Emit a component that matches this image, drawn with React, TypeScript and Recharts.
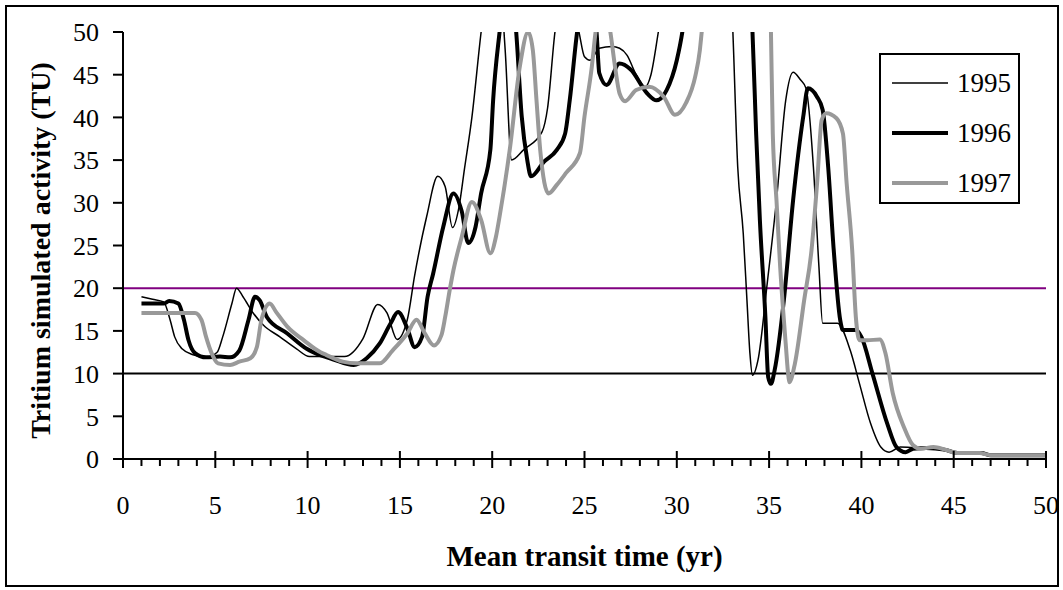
import { Line, LineChart, ReferenceLine, XAxis, YAxis } from "recharts";

// mean transit time (yr) -> simulated tritium (TU)
const x1995 = [1.0, 1.6, 2.2, 2.55, 2.8, 3.2, 3.8, 4.5, 5.1, 5.4, 5.9, 6.15, 6.5, 7.05, 7.6, 8.5, 9.4, 10.1, 11.0, 12.0, 13.0, 13.8, 14.3, 14.85, 15.4, 15.8, 16.45, 17.05, 17.45, 17.85, 18.2, 18.5, 18.9, 19.4, 19.9, 20.3, 20.7, 21.05, 21.7, 22.7, 23.0, 23.4, 24.0, 24.7, 25.0, 25.3, 25.8, 26.5, 26.9, 27.3, 27.8, 28.3, 28.6, 29.0, 30.0, 31.0, 32.0, 33.0, 33.3, 33.6, 33.8, 33.96, 34.1, 34.4, 34.9, 35.4, 35.9, 36.3, 36.7, 37.0, 37.4, 37.7, 37.9, 38.7, 39.4, 39.9, 40.5, 41.05, 41.5, 42.1, 43.0, 44.0, 45.0, 46.5, 47.0, 50.0];
const y1995 = [19.0, 18.7, 18.4, 16.3, 14.3, 12.9, 12.2, 11.9, 12.5, 14.3, 18.2, 20.0, 19.0, 17.1, 15.7, 14.3, 12.9, 12.0, 12.0, 12.0, 14.1, 18.1, 17.1, 14.0, 16.3, 21.5, 28.4, 33.1, 31.9, 27.1, 29.5, 34.0, 40.0, 50.0, 58, 58, 48, 35.0, 36.2, 38.3, 41.1, 50.0, 56, 50, 47.1, 46.7, 48.1, 48.3, 48.1, 47.3, 45.0, 43.6, 45.0, 50.0, 65, 75, 75, 52, 34.2, 26.4, 18.6, 12.4, 9.8, 11.6, 20.6, 30.3, 42.0, 45.3, 44.4, 43.4, 34.2, 22.5, 15.9, 15.9, 12.7, 8.8, 4.15, 1.4, 0.8, 1.4, 1.3, 1.2, 0.8, 0.7, 0.45, 0.45];

const x1996 = [1.0, 2.2, 2.5, 3.0, 3.3, 3.55, 3.9, 4.5, 5.25, 5.8, 6.3, 6.8, 7.15, 7.4, 7.8, 8.9, 9.95, 10.3, 11.4, 12.5, 13.2, 13.9, 14.5, 14.9, 15.4, 15.8, 16.2, 16.5, 16.8, 17.35, 17.9, 18.35, 18.7, 19.1, 19.4, 19.9, 20.05, 20.4, 20.9, 21.3, 21.6, 21.9, 22.1, 22.8, 23.5, 23.95, 24.2, 24.6, 25.1, 25.65, 25.8, 26.2, 26.9, 27.5, 28.4, 28.9, 29.45, 30.0, 30.3, 31.0, 32.0, 33.0, 33.8, 34.1, 34.3, 34.5, 34.8, 34.95, 35.1, 35.3, 35.8, 36.3, 36.85, 37.1, 37.6, 37.9, 38.2, 38.5, 38.85, 39.0, 39.7, 40.0, 40.6, 41.4, 41.9, 42.4, 42.8, 43.5, 44.5, 45.2, 46.5, 47.0, 50.0];
const y1996 = [18.2, 18.2, 18.5, 18.2, 16.3, 13.9, 12.4, 11.9, 12.0, 11.9, 12.7, 16.3, 19.0, 18.6, 16.6, 14.7, 12.9, 12.5, 11.65, 11.0, 11.8, 13.5, 15.9, 17.2, 15.3, 13.1, 14.3, 19.0, 21.7, 27.2, 31.1, 29.0, 25.3, 27.2, 31.1, 36.2, 42.0, 50.0, 58, 50, 40.1, 35.0, 33.1, 34.8, 36.2, 38.1, 42.0, 50.0, 56, 50, 45.2, 43.8, 46.3, 45.6, 42.8, 42.0, 43.2, 46.7, 50, 65, 78, 78, 60, 50, 38, 28, 16.6, 9.6, 8.8, 10.4, 18.6, 30.3, 40.1, 43.4, 42.4, 40.9, 34.2, 24.5, 16.3, 15.1, 15.1, 14.3, 10.0, 4.15, 1.4, 0.8, 1.2, 1.3, 1.1, 0.7, 0.7, 0.45, 0.45];

const x1997 = [1.0, 3.45, 3.9, 4.25, 4.5, 4.8, 5.15, 5.8, 6.3, 6.9, 7.25, 7.5, 7.95, 8.3, 8.9, 9.8, 10.7, 11.0, 11.9, 12.65, 13.9, 14.6, 15.4, 15.9, 16.35, 16.85, 17.25, 17.45, 17.7, 17.9, 18.35, 18.9, 19.4, 19.9, 20.2, 20.4, 20.95, 21.5, 21.95, 22.2, 22.4, 22.6, 23.05, 23.5, 24.0, 24.75, 25.0, 25.4, 25.6, 26.0, 26.4, 26.65, 26.9, 27.2, 27.8, 28.5, 29.3, 29.9, 30.5, 31.0, 31.25, 31.35, 32.0, 33.0, 34.0, 35.0, 35.1, 35.2, 35.4, 35.6, 35.9, 36.05, 36.1, 36.4, 36.9, 37.3, 37.6, 37.85, 38.1, 38.65, 39.0, 39.2, 39.5, 39.7, 39.9, 40.3, 41.0, 41.3, 41.7, 42.3, 42.8, 43.2, 43.9, 44.6, 45.2, 46.4, 47.0, 50.0];
const y1997 = [17.1, 17.1, 17.1, 16.3, 14.3, 12.4, 11.2, 11.0, 11.4, 11.8, 13.1, 16.3, 18.2, 17.2, 15.5, 13.9, 12.5, 12.2, 11.4, 11.2, 11.2, 12.7, 14.7, 16.3, 14.7, 13.3, 14.5, 16.6, 19.8, 22.1, 26.0, 30.1, 28.0, 24.1, 26.0, 28.4, 36.2, 46.0, 50.0, 47.9, 42.0, 36.2, 31.1, 32.1, 33.5, 35.8, 40.1, 46.0, 50, 54, 50, 46.0, 42.8, 41.9, 43.2, 43.6, 42.4, 40.3, 41.7, 44.8, 47.9, 50, 62, 78, 80, 60, 50, 38.1, 30.3, 22.5, 13.5, 9.6, 9.0, 11.2, 18.6, 24.5, 32.3, 39.7, 40.5, 39.9, 38.1, 32.3, 24.5, 16.6, 13.9, 13.9, 14.0, 12.4, 7.7, 3.75, 1.6, 1.2, 1.4, 1.05, 0.7, 0.7, 0.45, 0.45];

const xTicks = Array.from({ length: 51 }, (_, i) => i);
const yTicks = [0, 5, 10, 15, 20, 25, 30, 35, 40, 45, 50];
const refLevels = [
    { value: 20, color: "#800080" },
    { value: 10, color: "#000000" },
];

const toPoints = (xs: number[], ys: number[]) => xs.map((x, i) => ({ x, y: ys[i] }));

const series = [
    { name: "1995", data: toPoints(x1995, y1995), color: "#000000", width: 1.5 },
    { name: "1996", data: toPoints(x1996, y1996), color: "#000000", width: 4 },
    { name: "1997", data: toPoints(x1997, y1997), color: "#999999", width: 4 },
];

const FONT = '"Liberation Serif", "Times New Roman", serif';

const XTick = (props: any) => {
    const { x, y, payload } = props;
    const major = payload.value % 5 === 0;
    return (
        <g>
            <line x1={x} x2={x} y1={major ? y - 8 : y} y2={major ? y + 9 : y + 7} stroke="#000" strokeWidth={2} />
            {major && (
                <text x={x} y={y + 55} textAnchor="middle" fontSize={26} fontFamily={FONT} fill="#000">
                    {payload.value}
                </text>
            )}
        </g>
    );
};

const ChartLegend = () => (
    <div
        style={{
            position: "absolute", left: 879, top: 53, width: 141, height: 151,
            border: "2px solid #000", boxSizing: "border-box", background: "#fff",
        }}
    >
        {series.map((s, i) => (
            <div key={s.name} style={{ position: "absolute", left: 0, top: 28 + i * 50 - 18, height: 36, width: 137 }}>
                <svg width={60} height={36} style={{ position: "absolute", left: 11, top: 0 }}>
                    <line x1={0} x2={56} y1={18} y2={18} stroke={s.color} strokeWidth={s.width} />
                </svg>
                <span style={{ position: "absolute", left: 76, top: 0, lineHeight: "36px", fontSize: 27, fontFamily: FONT }}>
                    {s.name}
                </span>
            </div>
        ))}
    </div>
);

const App = () => {
    return (
        <div style={{ position: "absolute", left: 0, top: 0, width: 1063, height: 590, background: "#fff" }}>
            <div style={{ position: "absolute", left: 5, top: 5, width: 1054, height: 582, border: "2px solid #000", boxSizing: "border-box" }} />
            <LineChart width={1063} height={590} margin={{ top: 32, right: 17, left: 0, bottom: 0 }} style={{ position: "absolute", left: 0, top: 0 }}>
                <XAxis
                    dataKey="x"
                    type="number"
                    domain={[0, 50]}
                    ticks={xTicks}
                    interval={0}
                    height={131}
                    tickSize={0}
                    tickMargin={0}
                    tick={XTick}
                    axisLine={{ stroke: "#000", strokeWidth: 2 }}
                    tickLine={false}
                    allowDuplicatedCategory={false}
                    label={(p: any) => (
                        <text x={p.viewBox.x + p.viewBox.width / 2} y={p.viewBox.y + 107} textAnchor="middle" fontSize={29} fontWeight="bold" fontFamily={FONT} fill="#000">
                            Mean transit time (yr)
                        </text>
                    )}
                />
                <YAxis
                    type="number"
                    domain={[0, 50]}
                    ticks={yTicks}
                    allowDataOverflow
                    width={123}
                    tickSize={10}
                    tickMargin={14}
                    tick={{ fontSize: 26, fontFamily: FONT, fill: "#000" }}
                    axisLine={{ stroke: "#000", strokeWidth: 2 }}
                    tickLine={{ stroke: "#000", strokeWidth: 2 }}
                    label={(p: any) => {
                        const cy = p.viewBox.y + p.viewBox.height / 2 + 5;
                        return (
                            <text x={40} y={cy} transform={`rotate(-90 40 ${cy})`} textAnchor="middle" dominantBaseline="central" fontSize={28} fontWeight="bold" fontFamily={FONT} fill="#000">
                                Tritium simulated activity (TU)
                            </text>
                        );
                    }}
                />
                {refLevels.map((r) => (
                    <ReferenceLine key={r.value} y={r.value} stroke={r.color} strokeWidth={2} />
                ))}
                {series.map((s) => (
                    <Line
                        key={s.name}
                        data={s.data}
                        dataKey="y"
                        name={s.name}
                        type="monotone"
                        stroke={s.color}
                        strokeWidth={s.width}
                        dot={false}
                        activeDot={false}
                        isAnimationActive={false}
                    />
                ))}
            </LineChart>
            <ChartLegend />
        </div>
    );
};

export default App;
